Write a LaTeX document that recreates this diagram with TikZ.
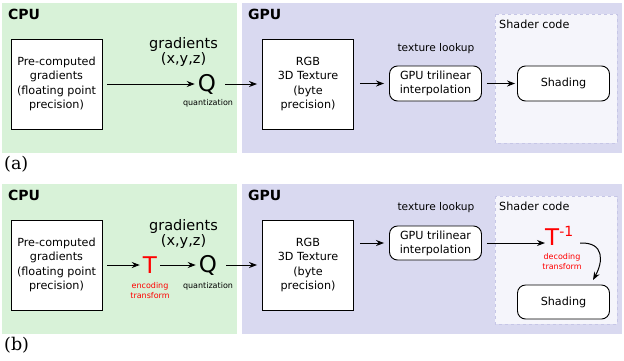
\documentclass[tikz,border=0pt]{standalone}
\usepackage{fontspec}
\setmainfont{DejaVu Sans}
\newfontfamily\labelfont{DejaVu Serif}
\usetikzlibrary{arrows.meta}
\definecolor{cpugreen}{HTML}{D8F2D8}
\definecolor{gpublue}{HTML}{D9D9F0}
\definecolor{shaderfill}{HTML}{F5F5FB}
\definecolor{shaderedge}{HTML}{C6C6E6}
\definecolor{tred}{HTML}{FF0000}
\begin{document}
\begin{tikzpicture}[x=1pt,y=-1pt,
  sqbox/.style={draw, line width=0.9pt, fill=white, minimum width=91pt, minimum height=90pt,
    align=center, inner sep=0pt, font=\fontsize{11.2}{14.5}\selectfont},
  rbox/.style={draw, line width=0.9pt, fill=white, rounded corners=8pt, minimum width=92pt,
    minimum height=35pt, align=center, inner sep=0pt, font=\fontsize{11.2}{14}\selectfont},
  shaderbox/.style={draw=shaderedge, dashed, fill=shaderfill, line width=0.6pt},
  bigsym/.style={inner sep=3pt, font=\fontsize{23}{23}\selectfont},
  smalllbl/.style={align=center, inner sep=0pt, font=\fontsize{8}{10}\selectfont},
  redlbl/.style={smalllbl, text=tred},
  gradlbl/.style={align=center, inner sep=0pt, font=\fontsize{14.5}{15}\selectfont},
  midlbl/.style={inner sep=0pt, font=\fontsize{10.6}{12}\selectfont},
  title/.style={inner sep=0pt, anchor=west, font=\fontsize{14}{14}\selectfont\bfseries},
  panel/.style={inner sep=0pt, anchor=west, font=\labelfont\fontsize{17.5}{17.5}\selectfont},
  arr/.style={-{Stealth[length=8pt,width=6pt]}, line width=1pt}
]
\useasboundingbox (0,0) rectangle (624,360);
\fill[white] (0,0) rectangle (624,360);

% ---------------- panel (a) ----------------
\fill[cpugreen] (2,3) rectangle (237,153);
\fill[gpublue] (242,3) rectangle (622,153);
\draw[shaderbox] (495,14) rectangle (617,143);
\node[title] (cpuA) at (8,14) {CPU};
\node[title] (gpuA) at (248,14) {GPU};
\node[inner sep=0pt, anchor=west, font=\fontsize{11.2}{12}\selectfont] (shcA) at (499,24) {Shader code};

\node[sqbox] (preA) at (56.5,84) {Pre-computed\\gradients\\(floating point\\precision)};
\node[gradlbl] (gradA) at (183.5,52) {gradients\\(x,y,z)};
\node[bigsym] (QA) at (207,84.5) {Q};
\node[smalllbl] (quA) at (208,103) {quantization};
\node[sqbox] (texA) at (308,84) {RGB\\3D Texture\\(byte\\precision)};
\node[midlbl] (lookA) at (436,49) {texture lookup};
\node[rbox] (triA) at (435.5,83.5) {GPU trilinear\\interpolation};
\node[rbox] (shA) at (563.5,83.5) {Shading};

\draw[arr, shorten <=5pt] (preA.east) -- (preA.east -| QA.west);
\draw[arr, shorten <=6pt, shorten >=5pt] (QA.east |- texA.west) -- (texA.west);
\draw[arr, shorten <=6pt, shorten >=5pt] (texA.east |- triA.west) -- (triA.west);
\draw[arr, shorten <=5pt, shorten >=2pt] (triA.east) -- (shA.west);
\node[panel] (labA) at (4,164) {(a)};

% ---------------- panel (b) ----------------
\fill[cpugreen] (2,184) rectangle (237,334);
\fill[gpublue] (242,184) rectangle (622,334);
\draw[shaderbox] (495,196) rectangle (617,324);
\node[title] (cpuB) at (8,195) {CPU};
\node[title] (gpuB) at (248,195) {GPU};
\node[inner sep=0pt, anchor=west, font=\fontsize{11.2}{12}\selectfont] (shcB) at (499,206) {Shader code};

\node[sqbox] (preB) at (56.5,265) {Pre-computed\\gradients\\(floating point\\precision)};
\node[gradlbl] (gradB) at (183.5,234) {gradients\\(x,y,z)};
\node[bigsym, text=tred] (TB) at (150,265.5) {T};
\node[redlbl] (encB) at (150,291) {encoding\\transform};
\node[bigsym] (QB) at (208,265.5) {Q};
\node[smalllbl] (quB) at (208,286) {quantization};
\node[sqbox] (texB) at (308,265) {RGB\\3D Texture\\(byte\\precision)};
\node[midlbl] (lookB) at (436,208) {texture lookup};
\node[rbox, minimum height=34pt] (triB) at (435.5,243) {GPU trilinear\\interpolation};
\node[bigsym, text=tred, anchor=west, inner sep=0pt] (TinvB) at (545,236)
  {T\raisebox{9pt}{\fontsize{14}{14}\selectfont -1}};
\node[redlbl] (decB) at (562,262) {decoding\\transform};
\node[rbox, minimum height=34pt] (shB) at (563.5,302) {Shading};
\coordinate (curveS) at (580,243);
\coordinate (curveE) at (593,280);

\draw[arr, shorten <=5pt] (preB.east) -- (preB.east -| TB.west);
\draw[arr] (TB.east |- preB.east) -- (preB.east -| QB.west);
\draw[arr, shorten <=6pt, shorten >=5pt] (QB.east |- texB.west) -- (texB.west);
\draw[arr, shorten <=6pt, shorten >=5pt] (texB.east |- triB.west) -- (triB.west);
\draw[arr, shorten <=5pt] (triB.east) -- (triB.east -| TinvB.west);
\draw[arr] (curveS) .. controls (605,242) and (603,262) .. (curveE);
\node[panel] (labB) at (4,345) {(b)};
\end{tikzpicture}
\end{document}
